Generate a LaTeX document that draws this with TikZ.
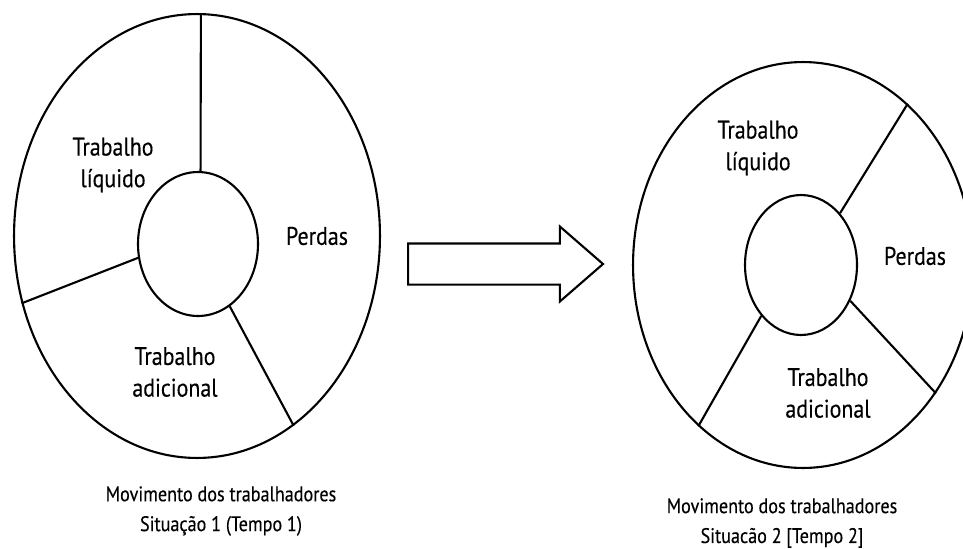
\documentclass[tikz,border=0pt]{standalone}
\usepackage{fontspec}
\setmainfont{PT Sans}[FakeStretch=0.86, FakeBold=0.3]
\usetikzlibrary{shapes.geometric, shapes.arrows}

\begin{document}
\begin{tikzpicture}[
    x=0.02cm, y=-0.02cm,
    ring/.style={draw=black, ellipse, inner sep=0pt, line width=1.2pt},
    divider/.style={draw=black, line width=1.2pt},
    sector/.style={align=center, font=\fontsize{14.5}{18}\selectfont},
    captiontext/.style={align=center, font=\fontsize{12}{17}\selectfont}
]

\useasboundingbox (0,0) rectangle (963,548);
\clip (0,0) rectangle (963,548);

% -------------------------
% Situation 1 (left)
% -------------------------
\node[ring, minimum width=7.32cm, minimum height=8.88cm] (OuterA) at (197,236) {};
\node[ring, minimum width=2.4cm, minimum height=2.88cm] (InnerA) at (198,244) {};

\draw[divider] (InnerA.88) -- (OuterA.89);
\draw[divider] (InnerA.193) -- (OuterA.201.6);
\draw[divider] (InnerA.297) -- (OuterA.297);

\node[sector] (LiquidoA) at (113,165) {Trabalho\\líquido};
\node[sector] (PerdasA) at (317,236) {Perdas};
\node[sector] (AdicionalA) at (175,372) {Trabalho\\adicional};

\node[captiontext] (CaptionA) at (221,511) {Movimento dos trabalhadores\\Situação 1 (Tempo 1)};

% -------------------------
% Transition arrow
% -------------------------
\node[single arrow, draw=black, line width=1.2pt, inner sep=0pt, inner ysep=0.39cm,
      minimum height=3.9cm, single arrow head extend=0.34cm,
      single arrow tip angle=82, anchor=tail] (Shift) at (407,264) {};

% -------------------------
% Situation 2 (right)
% -------------------------
\node[ring, minimum width=6.8cm, minimum height=8.12cm] (OuterB) at (803,265) {};
\node[ring, minimum width=2.24cm, minimum height=2.8cm] (InnerB) at (801,265) {};

\draw[divider] (InnerB.53.6) -- (OuterB.57);
\draw[divider] (InnerB.324) -- (OuterB.316);
\draw[divider] (InnerB.232.8) -- (OuterB.237.4);

\node[sector] (LiquidoB) at (758,148) {Trabalho\\líquido};
\node[sector] (PerdasB) at (915,256) {Perdas};
\node[sector] (AdicionalB) at (828,393) {Trabalho\\adicional};

\node[captiontext] (CaptionB) at (782,523) {Movimento dos trabalhadores\\Situacão 2 [Tempo 2]};

\end{tikzpicture}
\end{document}
